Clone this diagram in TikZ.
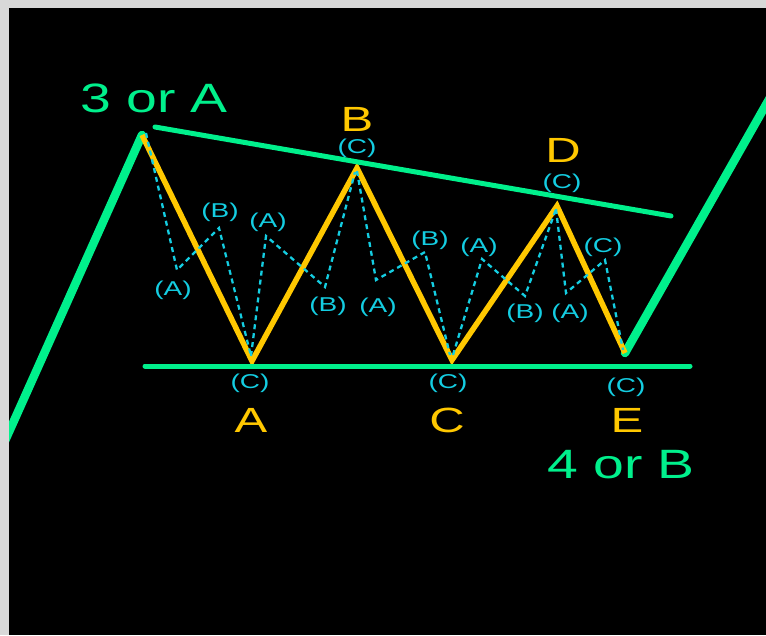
\documentclass[tikz,border=0pt]{standalone}
\usepackage{fontspec}
\setmainfont{Liberation Sans}
\usepackage{graphicx}
\definecolor{wgreen}{RGB}{0,240,140}
\definecolor{worange}{RGB}{255,200,0}
\definecolor{wcyan}{RGB}{20,205,225}
\definecolor{wgray}{RGB}{216,216,216}
\newcommand{\wtxt}[2]{\scalebox{#1}[1]{#2}}
\begin{document}
\begin{tikzpicture}[x=1pt,y=-1pt,
  greenlbl/.style={text=wgreen, inner sep=0pt, font=\fontsize{41}{41}\selectfont},
  orangelbl/.style={text=worange, inner sep=0pt, font=\fontsize{35}{35}\selectfont},
  sublbl/.style={text=wcyan, inner sep=0pt, font=\fontsize{20}{20}\selectfont},
  trendline/.style={draw=wgreen, line width=5pt, line cap=round},
  impulse/.style={draw=wgreen, line width=8.5pt, line cap=round, line join=round},
  wave/.style={draw=worange, line width=5.5pt, line join=miter},
  subwave/.style={draw=wcyan, line width=2.3pt, dash pattern=on 5pt off 4pt}]
\useasboundingbox (0,0) rectangle (766,635);
\fill[black] (0,0) rectangle (766,635);
\begin{scope}
\clip (0,0) rectangle (766,635);
% main wave points
\coordinate (s0) at (0,452);
\coordinate (p3) at (142,135);
\coordinate (pA) at (252,361);
\coordinate (pB) at (357,168);
\coordinate (pC) at (452,360);
\coordinate (pD) at (557,206);
\coordinate (pE) at (625,353);
\coordinate (s1) at (780,80);
% trend line ends
\coordinate (u0) at (155,127);
\coordinate (u1) at (671,216);
\coordinate (l0) at (145,366);
\coordinate (l1) at (690,366);
% sub-wave points
\coordinate (a0) at (146,133);
\coordinate (a1) at (177,270);
\coordinate (a2) at (219,228);
\coordinate (a3) at (251,356);
\coordinate (b1) at (266,236);
\coordinate (b2) at (325,287);
\coordinate (b3) at (355,172);
\coordinate (c0) at (357,171);
\coordinate (c1) at (376,280);
\coordinate (c2) at (425,252);
\coordinate (c3) at (450,355);
\coordinate (d0) at (453,355);
\coordinate (d1) at (482,259);
\coordinate (d2) at (525,296);
\coordinate (d3) at (556,209);
\coordinate (e1) at (566,293);
\coordinate (e2) at (605,260);
\coordinate (e3) at (623,350);

\draw[impulse] (s0) -- (p3);
\draw[impulse] (pE) -- (s1);
\draw[wave] (p3) -- (pA) -- (pB) -- (pC) -- (pD) -- (pE);
\draw[subwave] (a0) -- (a1) -- (a2) -- (a3);
\draw[subwave] (a3) -- (b1) -- (b2) -- (b3);
\draw[subwave] (c0) -- (c1) -- (c2) -- (c3);
\draw[subwave] (d0) -- (d1) -- (d2) -- (d3);
\draw[subwave] (d3) -- (e1) -- (e2) -- (e3);
\draw[trendline] (u0) -- (u1);
\draw[trendline] (l0) -- (l1);
\end{scope}

% big labels
\node[greenlbl] (t3A) at (154,98) {\wtxt{1.35}{3 or A}};
\node[greenlbl] (t4B) at (621,465) {\wtxt{1.35}{4 or B}};
\node[orangelbl] (tB) at (357,119) {\wtxt{1.4}{B}};
\node[orangelbl] (tD) at (563,150) {\wtxt{1.4}{D}};
\node[orangelbl] (tA) at (251,420) {\wtxt{1.4}{A}};
\node[orangelbl] (tC) at (447,420) {\wtxt{1.4}{C}};
\node[orangelbl] (tE) at (627,420) {\wtxt{1.4}{E}};

% sub-wave labels
\node[sublbl] (la1) at (173,290) {\wtxt{1.4}{(A)}};
\node[sublbl] (la2) at (220,212) {\wtxt{1.4}{(B)}};
\node[sublbl] (la3) at (250,383) {\wtxt{1.4}{(C)}};
\node[sublbl] (lb1) at (268,222) {\wtxt{1.4}{(A)}};
\node[sublbl] (lb2) at (328,306) {\wtxt{1.4}{(B)}};
\node[sublbl] (lb3) at (357,148) {\wtxt{1.4}{(C)}};
\node[sublbl] (lc1) at (378,307) {\wtxt{1.4}{(A)}};
\node[sublbl] (lc2) at (430,240) {\wtxt{1.4}{(B)}};
\node[sublbl] (lc3) at (448,383) {\wtxt{1.4}{(C)}};
\node[sublbl] (ld1) at (479,247) {\wtxt{1.4}{(A)}};
\node[sublbl] (ld2) at (525,313) {\wtxt{1.4}{(B)}};
\node[sublbl] (ld3) at (562,183) {\wtxt{1.4}{(C)}};
\node[sublbl] (le1) at (570,313) {\wtxt{1.4}{(A)}};
\node[sublbl] (le2) at (603,247) {\wtxt{1.4}{(C)}};
\node[sublbl] (le3) at (626,387) {\wtxt{1.4}{(C)}};

% grey frame
\fill[wgray] (0,0) rectangle (766,8);
\fill[wgray] (0,0) rectangle (9,635);
\end{tikzpicture}
\end{document}
